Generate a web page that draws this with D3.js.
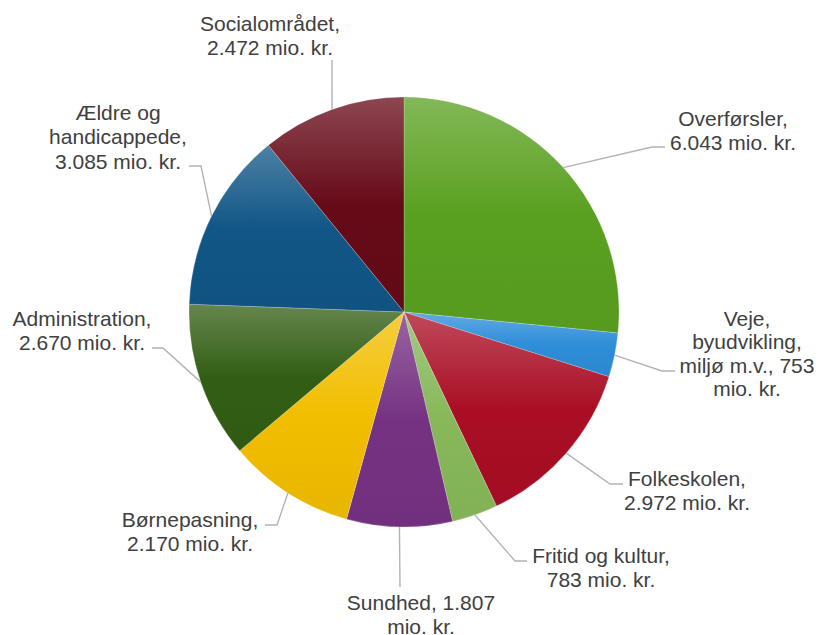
<!DOCTYPE html>
<html><head><meta charset="utf-8">
<script src="https://cdn.jsdelivr.net/npm/d3@7"></script>
<style>body{margin:0;background:#fff}svg{display:block}</style>
</head><body><svg id="c" width="822" height="635"></svg>
<script>
const categories = ["Overførsler","Veje, byudvikling, miljø m.v.","Folkeskolen","Fritid og kultur","Sundhed","Børnepasning","Administration","Ældre og handicappede","Socialområdet"];
const values = [6043,753,2972,783,1807,2170,2670,3085,2472];
const labelLines = [
  ["Overførsler,","6.043 mio. kr."],
  ["Veje,","byudvikling,","miljø m.v., 753","mio. kr."],
  ["Folkeskolen,","2.972 mio. kr."],
  ["Fritid og kultur,","783 mio. kr."],
  ["Sundhed, 1.807","mio. kr."],
  ["Børnepasning,","2.170 mio. kr."],
  ["Administration,","2.670 mio. kr."],
  ["Ældre og","handicappede,","3.085 mio. kr."],
  ["Socialområdet,","2.472 mio. kr."]
];
const colors = ["#5aa020","#2e8ed8","#aa0e24","#87b85a","#763282","#f2be00","#325e14","#115686","#660a18"];
// layout: leader elbow, leader end, text centre x, first line centre y, line step
const layout = [
  {ex:652,ey:147,tx:665,ty:147,cx:733,cy:118,ls:24.5},
  {ex:662,ey:371,tx:675,ty:371,cx:747,cy:318,ls:23.5},
  {ex:610,ey:484,tx:623,ty:484,cx:687,cy:478,ls:24.5},
  {ex:515,ey:561,tx:527,ty:561,cx:601,cy:555,ls:24},
  {ex:400,ey:587,tx:400,ty:587,cx:421,cy:602,ls:24},
  {ex:277,ey:525,tx:265,ty:525,cx:190,cy:519,ls:24.5},
  {ex:163,ey:348,tx:152,ty:348,cx:82,cy:318,ls:24.5},
  {ex:201,ey:166,tx:189,ty:166,cx:118,cy:112,ls:24.5},
  {ex:332,ey:60,tx:332,ty:60,cx:270,cy:23,ls:24.5}
];
const cx = 404, cy = 312, R = 215;
const svg = d3.select("#c");
const defs = svg.append("defs");
colors.forEach((c,i)=>{
  const g = defs.append("linearGradient").attr("id","g"+i).attr("x1",0).attr("y1",0).attr("x2",0).attr("y2",1);
  g.append("stop").attr("offset",0).attr("stop-color",d3.interpolateRgb(c,"#ffffff")(0.25));
  g.append("stop").attr("offset",0.5).attr("stop-color",c);
  g.append("stop").attr("offset",1).attr("stop-color",d3.interpolateRgb(c,"#000000")(0.04));
});
const pie = d3.pie().sort(null).value(d=>d);
const arcs = pie(values);
const arc = d3.arc().innerRadius(0).outerRadius(R);
const edge = d3.arc().innerRadius(R).outerRadius(R);
const g = svg.append("g").attr("transform",`translate(${cx},${cy})`);
g.selectAll("path.slice").data(arcs).join("path").attr("class","slice")
  .attr("d",arc).attr("fill",(d,i)=>`url(#g${i})`)
  .attr("stroke","rgba(255,255,255,0.35)").attr("stroke-width",0.6);
// leaders
arcs.forEach((a,i)=>{
  const [px,py] = edge.centroid(a);
  const L = layout[i];
  svg.append("polyline")
    .attr("points",`${cx+px},${cy+py} ${L.ex},${L.ey} ${L.tx},${L.ty}`)
    .attr("fill","none").attr("stroke","#b3b3b3").attr("stroke-width",1.4);
  const t = svg.append("text").attr("text-anchor","middle")
    .attr("font-family","'Liberation Sans', Arial, sans-serif").attr("font-size","21px").attr("fill","#404040");
  labelLines[i].forEach((s,j)=>{
    t.append("tspan").attr("x",L.cx).attr("y",L.cy + j*L.ls + 7.5).text(s);
  });
});
</script></body></html>
